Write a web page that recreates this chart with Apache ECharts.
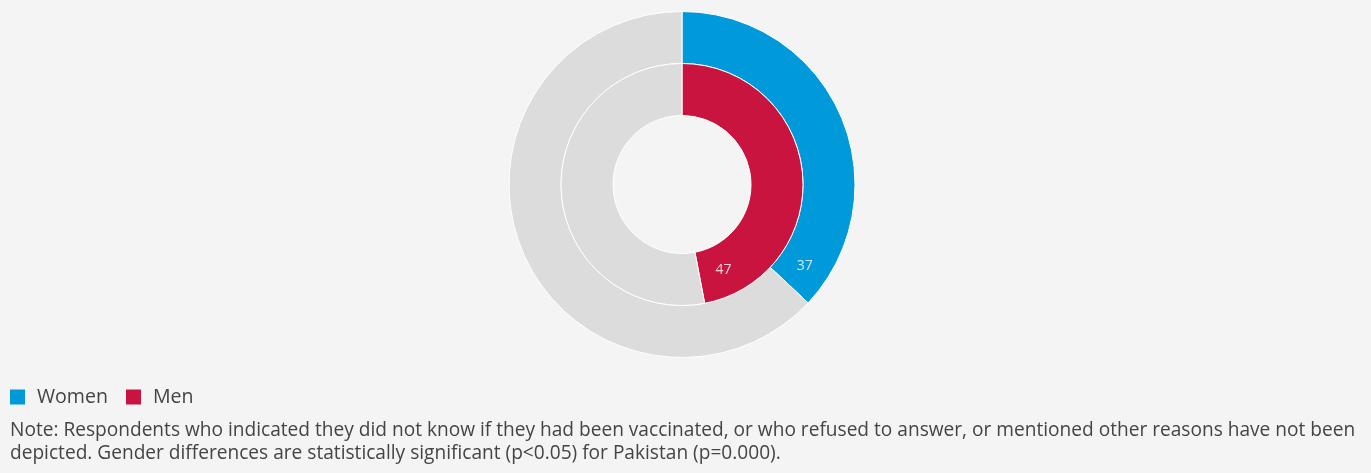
<!DOCTYPE html>
<html>
<head>
<meta charset="utf-8">
<script src="https://cdn.jsdelivr.net/npm/echarts@6/dist/echarts.min.js"></script>
<style>
html,body{margin:0;padding:0;background:#f4f4f4;}
#chart{width:1371px;height:473px;}
</style>
</head>
<body>
<div id="chart"></div>
<script>
// Data
const groups = ['Women', 'Men'];
const values = [37, 47];
const total = 100;
const colors = ['#0099da', '#c8143f'];
const greyColor = '#dcdcdc';
const noteLines = [
  'Note: Respondents who indicated they did not know if they had been vaccinated, or who refused to answer, or mentioned other reasons have not been',
  'depicted. Gender differences are statistically significant (p<0.05) for Pakistan (p=0.000).'
];

// Layout (pixels)
const cx = 682, cy = 184.5, R = 172.5;
const rings = [[121, 173], [69, 121]]; // Women outer ring, Men inner ring
const labelArc = 25; // px back from slice end
const FONT = '"Open Sans"';

// fit font sizes to reference text widths
const ctx = document.createElement('canvas').getContext('2d');
function fitSize(text, targetW, base) {
  ctx.font = base + 'px ' + FONT;
  return +(base * targetW / ctx.measureText(text).width).toFixed(2);
}
const noteSize = fitSize(noteLines[0], 1345, 17);
const legendSize = fitSize('Women', 71, 18);

const chart = echarts.init(document.getElementById('chart'), null, {renderer: 'canvas'});

const pieSeries = groups.map((g, i) => ({
  type: 'pie',
  name: 'ring' + i,
  silent: true,
  center: [cx, cy],
  radius: rings[i],
  startAngle: 90,
  clockwise: true,
  animation: false,
  label: {show: false},
  labelLine: {show: false},
  itemStyle: {borderColor: '#ffffff', borderWidth: 1},
  data: [
    {name: g, value: values[i], itemStyle: {color: colors[i]}},
    {name: g + ' other', value: total - values[i], itemStyle: {color: greyColor}}
  ]
}));

const labelData = groups.map((g, i) => {
  const rMid = (rings[i][0] + rings[i][1]) / 2;
  const back = labelArc / (2 * Math.PI * rMid) * total;
  return {value: [rMid, values[i] - back], name: String(values[i])};
});

chart.setOption({
  backgroundColor: '#f4f4f4',
  animation: false,
  polar: {center: [cx, cy], radius: R},
  angleAxis: {
    type: 'value', min: 0, max: total, startAngle: 90, clockwise: true,
    axisLine: {show: false}, axisTick: {show: false}, axisLabel: {show: false}, splitLine: {show: false}
  },
  radiusAxis: {
    type: 'value', min: 0, max: R,
    axisLine: {show: false}, axisTick: {show: false}, axisLabel: {show: false}, splitLine: {show: false}
  },
  legend: {
    data: groups.map((g, i) => ({name: g, itemStyle: {color: colors[i], borderWidth: 0}})),
    left: 5, top: 382,
    icon: 'rect',
    itemWidth: 15, itemHeight: 15, itemGap: 18,
    selectedMode: false,
    itemStyle: {borderWidth: 0},
    textStyle: {fontFamily: FONT, fontSize: legendSize, color: '#444444', padding: [0, 0, 0, 7]}
  },
  graphic: [{
    type: 'text',
    left: 10, top: 419,
    silent: true,
    style: {
      text: noteLines.join('\n'),
      font: noteSize + 'px ' + FONT,
      lineHeight: 23,
      fill: '#444444'
    }
  }],
  series: pieSeries.concat([{
    type: 'scatter',
    coordinateSystem: 'polar',
    silent: true,
    symbolSize: 0,
    data: labelData,
    label: {
      show: true, position: 'inside',
      formatter: p => p.name,
      color: '#ffffff', fontFamily: FONT, fontSize: 14
    },
    z: 10
  }])
});
</script>
</body>
</html>
